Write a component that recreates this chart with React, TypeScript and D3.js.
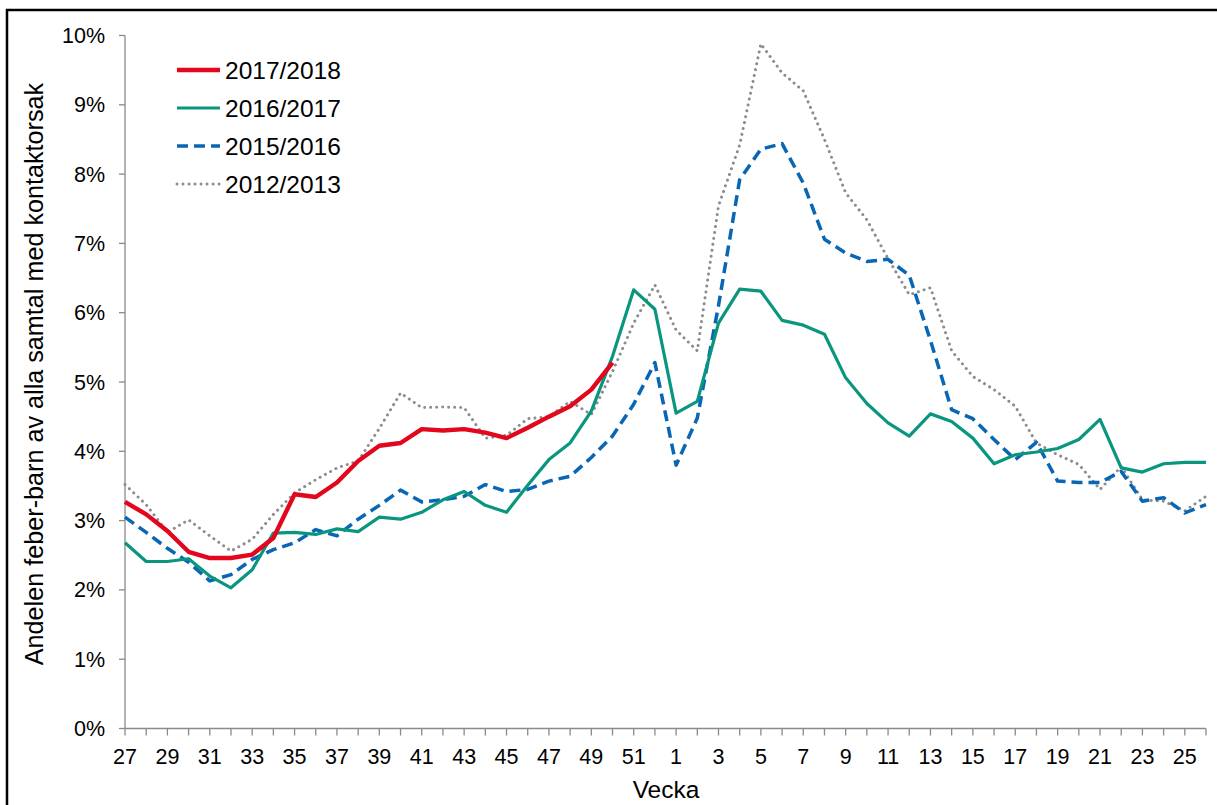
import React from "react";
import * as d3 from "d3";

const weeks: number[] = [
  27, 28, 29, 30, 31, 32, 33, 34, 35, 36, 37, 38, 39, 40, 41, 42, 43, 44, 45, 46, 47, 48, 49, 50, 51, 52,
  1, 2, 3, 4, 5, 6, 7, 8, 9, 10, 11, 12, 13, 14, 15, 16, 17, 18, 19, 20, 21, 22, 23, 24, 25, 26,
];

const s2017_2018: number[] = [
  3.27, 3.09, 2.85, 2.55, 2.46, 2.46, 2.51, 2.75, 3.38, 3.34, 3.55, 3.86, 4.08, 4.12, 4.32, 4.3, 4.32, 4.27,
  4.19, 4.34, 4.5, 4.65, 4.89, 5.28,
];

const s2016_2017: number[] = [
  2.68, 2.41, 2.41, 2.45, 2.2, 2.03, 2.29, 2.82, 2.83, 2.8, 2.88, 2.84, 3.05, 3.02, 3.12, 3.3, 3.42, 3.22,
  3.12, 3.51, 3.88, 4.12, 4.58, 5.37, 6.33, 6.05, 4.55, 4.72, 5.85, 6.34, 6.31, 5.89, 5.82, 5.69, 5.06, 4.69,
  4.41, 4.22, 4.54, 4.43, 4.19, 3.82, 3.95, 3.99, 4.04, 4.17, 4.46, 3.76, 3.7, 3.82, 3.84, 3.84,
];

const s2015_2016: number[] = [
  3.05, 2.83, 2.6, 2.4, 2.13, 2.22, 2.44, 2.58, 2.68, 2.87, 2.78, 3.02, 3.22, 3.44, 3.27, 3.3, 3.35, 3.52,
  3.42, 3.45, 3.57, 3.64, 3.91, 4.22, 4.68, 5.28, 3.8, 4.48, 6.1, 7.92, 8.36, 8.44, 7.87, 7.06, 6.86, 6.74,
  6.77, 6.54, 5.6, 4.6, 4.47, 4.17, 3.88, 4.13, 3.57, 3.55, 3.55, 3.71, 3.28, 3.33, 3.11, 3.23,
];

const s2012_2013: number[] = [
  3.52, 3.23, 2.83, 3.01, 2.78, 2.56, 2.73, 3.09, 3.4, 3.59, 3.76, 3.86, 4.33, 4.84, 4.63, 4.64, 4.63, 4.19,
  4.23, 4.47, 4.5, 4.72, 4.53, 5.15, 5.85, 6.4, 5.75, 5.45, 7.54, 8.42, 9.88, 9.46, 9.2, 8.5, 7.73, 7.34,
  6.78, 6.26, 6.36, 5.45, 5.08, 4.89, 4.65, 4.12, 3.95, 3.81, 3.45, 3.78, 3.3, 3.28, 3.14, 3.35,
];

const yTicks: number[] = [0, 1, 2, 3, 4, 5, 6, 7, 8, 9, 10];

const seriesNames: string[] = ["2017/2018", "2016/2017", "2015/2016", "2012/2013"];

const FONT = "'Liberation Sans', Arial, Helvetica, sans-serif";

export default function App() {
  const x = d3.scalePoint<string>().domain(weeks.map(String)).range([125, 1206]);
  const y = d3.scaleLinear().domain([0, 10]).range([728.5, 35.5]);

  const line = d3
    .line<number>()
    .x((_, i) => x(String(weeks[i])) as number)
    .y((d) => y(d));

  const styles = [
    { name: seriesNames[0], data: s2017_2018, color: "#e2071c", width: 4.4, dash: undefined as string | undefined, cap: "butt" },
    { name: seriesNames[1], data: s2016_2017, color: "#0a967e", width: 3.2, dash: undefined, cap: "butt" },
    { name: seriesNames[2], data: s2015_2016, color: "#0866b4", width: 3.5, dash: "11 6", cap: "butt" },
    { name: seriesNames[3], data: s2012_2013, color: "#8c8c8c", width: 3, dash: "0.01 6", cap: "round" },
  ];

  const drawOrder = [3, 2, 1, 0];
  const axisColor = "#8a8a8a";

  return (
    <svg
      width={1217}
      height={805}
      style={{ position: "absolute", left: 0, top: 0, background: "#fff" }}
      fontFamily={FONT}
    >
      <rect x={0} y={0} width={1217} height={805} fill="#fff" />
      <rect x={7} y={10} width={1400} height={1000} fill="none" stroke="#000" strokeWidth={2.5} />

      {/* y axis */}
      <line x1={125} x2={125} y1={y(10)} y2={y(0)} stroke={axisColor} strokeWidth={1.3} />
      {yTicks.map((t) => (
        <g key={"y" + t}>
          <line x1={119} x2={125} y1={y(t)} y2={y(t)} stroke={axisColor} strokeWidth={1.3} />
          <text x={105} y={y(t)} dy="0.35em" textAnchor="end" fontSize={21.5} fill="#000">
            {t}%
          </text>
        </g>
      ))}

      {/* x axis */}
      <line x1={125} x2={1206} y1={y(0)} y2={y(0)} stroke={axisColor} strokeWidth={1.3} />
      {weeks.map((w, i) => {
        const px = x(String(w)) as number;
        return (
          <g key={"x" + i}>
            <line x1={px} x2={px} y1={y(0)} y2={y(0) + 7} stroke={axisColor} strokeWidth={1.3} />
            {i % 2 === 0 && i < 51 ? (
              <text x={px} y={764} textAnchor="middle" fontSize={21.5} fill="#000">
                {w}
              </text>
            ) : null}
          </g>
        );
      })}

      {/* series */}
      {drawOrder.map((k) => {
        const s = styles[k];
        return (
          <path
            key={s.name}
            d={line(s.data) || ""}
            fill="none"
            stroke={s.color}
            strokeWidth={s.width}
            strokeDasharray={s.dash}
            strokeLinecap={s.cap as any}
            strokeLinejoin="round"
          />
        );
      })}

      {/* legend */}
      {styles.map((s, i) => {
        const ly = 70 + i * 38;
        return (
          <g key={"lg" + i}>
            <line
              x1={177}
              x2={220}
              y1={ly}
              y2={ly}
              stroke={s.color}
              strokeWidth={s.width}
              strokeDasharray={s.dash}
              strokeLinecap={s.cap as any}
            />
            <text x={225} y={ly + 9} fontSize={24.5} fill="#000">
              {s.name}
            </text>
          </g>
        );
      })}

      {/* axis titles */}
      <text x={666} y={798} textAnchor="middle" fontSize={24.5} fill="#000">
        Vecka
      </text>
      <text
        transform={`translate(43,374) rotate(-90)`}
        textAnchor="middle"
        fontSize={25.2}
        fill="#000"
      >
        Andelen feber-barn av alla samtal med kontaktorsak
      </text>
    </svg>
  );
}
